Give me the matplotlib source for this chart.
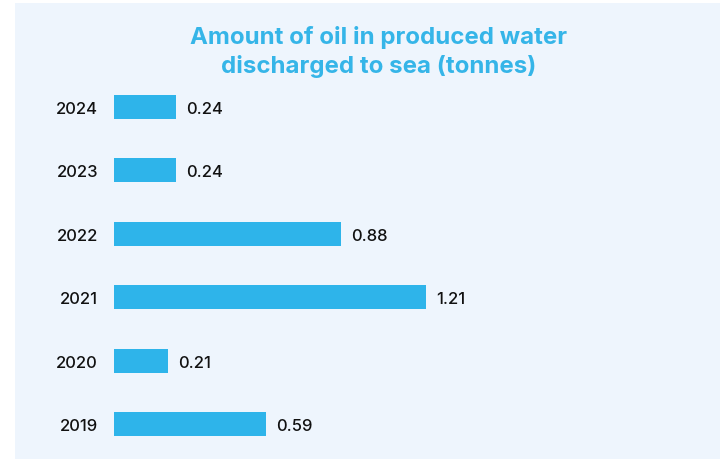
import matplotlib
matplotlib.use("Agg")
import matplotlib.pyplot as plt
from matplotlib.patches import Rectangle

years = ["2019", "2020", "2021", "2022", "2023", "2024"]
values = [0.59, 0.21, 1.21, 0.88, 0.24, 0.24]
value_labels = ["0.59", "0.21", "1.21", "0.88", "0.24", "0.24"]
title = "Amount of oil in produced water\ndischarged to sea (tonnes)"

W, H = 720, 460
fig = plt.figure(figsize=(W / 100, H / 100), dpi=100)
fig.patch.set_facecolor("white")
fig.patches.append(Rectangle((15 / W, 0), 1 - 15 / W, 1 - 4 / H, transform=fig.transFigure,
                             facecolor="#EEF5FD", edgecolor="none", zorder=-10))

left, right = 114 / W, 700 / W
top = 1 - 76.3 / H
bottom = 1 - 456.7 / H
ax = fig.add_axes([left, bottom, right - left, top - bottom])
ax.set_zorder(5)
ax.set_facecolor("none")
ypos = list(range(len(years)))
ax.barh(ypos, values, height=0.38, color="#2EB4EA")
ax.set_xlim(0, (700 - 114) / 258)
ax.set_ylim(-0.5, len(years) - 0.5)
for s in ax.spines.values():
    s.set_visible(False)
ax.set_xticks([])
ax.set_yticks(ypos)
ax.set_yticklabels(years, fontfamily="Inter", fontsize=12, fontweight="medium", color="#111111")
for t in ax.get_yticklabels():
    t.set_verticalalignment("center_baseline")
ax.tick_params(axis="y", length=0, pad=11.5)
for y, v, lab in zip(ypos, values, value_labels):
    ax.annotate(lab, (v, y), xytext=(10, 0), textcoords="offset pixels",
                va="center_baseline", ha="left", fontfamily="Inter", fontsize=12,
                fontweight="medium", color="#111111")

fig.text(379 / W, 1 - 52 / H, title, ha="center", va="center", fontfamily="Inter",
         fontweight="bold", fontsize=17.3, color="#35B5E8", linespacing=1.35)

fig.savefig("out.png", dpi=100)
